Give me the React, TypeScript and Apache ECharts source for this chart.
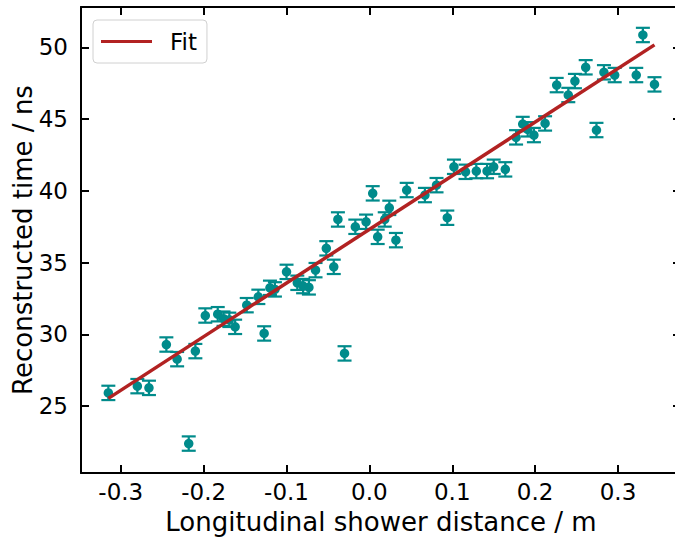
import React, { useEffect, useRef } from "react";
import * as echarts from "echarts";

const xVals = [
  -0.315, -0.28, -0.266, -0.245, -0.232, -0.218, -0.21, -0.198, -0.183, -0.176,
  -0.169, -0.162, -0.148, -0.134, -0.127, -0.12, -0.114, -0.1, -0.087, -0.08,
  -0.073, -0.065, -0.052, -0.043, -0.038, -0.03, -0.017, -0.004, 0.004, 0.01,
  0.0185, 0.024, 0.032, 0.045, 0.067, 0.081, 0.094, 0.102, 0.116, 0.129,
  0.142, 0.15, 0.164, 0.177, 0.185, 0.191, 0.1985, 0.212, 0.226, 0.24,
  0.248, 0.261, 0.274, 0.283, 0.296, 0.322, 0.33, 0.344,
];
const yVals = [
  25.93, 26.4, 26.28, 29.3, 28.28, 22.4, 28.84, 31.32, 31.41, 31.1,
  31.02, 30.53, 32.04, 32.62, 30.07, 33.25, 33.14, 34.36, 33.6, 33.37,
  33.28, 34.48, 36.0, 34.71, 38.01, 28.68, 37.5, 37.85, 39.83, 36.8,
  38.01, 38.82, 36.57, 40.06, 39.71, 40.4, 38.13, 41.68, 41.33, 41.38,
  41.38, 41.68, 41.5, 43.73, 44.66, 44.29, 43.89, 44.7, 47.37, 46.68,
  47.65, 48.61, 44.24, 48.26, 48.07, 48.07, 50.86, 47.42,
];
const yErr = [
  0.5, 0.5, 0.5, 0.5, 0.5, 0.5, 0.5, 0.5, 0.5, 0.5,
  0.5, 0.5, 0.5, 0.5, 0.5, 0.5, 0.5, 0.5, 0.5, 0.5,
  0.5, 0.5, 0.5, 0.5, 0.5, 0.5, 0.5, 0.5, 0.5, 0.5,
  0.5, 0.5, 0.5, 0.5, 0.5, 0.5, 0.5, 0.5, 0.5, 0.5,
  0.5, 0.5, 0.5, 0.5, 0.5, 0.5, 0.5, 0.5, 0.5, 0.5,
  0.5, 0.5, 0.5, 0.5, 0.5, 0.5, 0.5, 0.5,
];
const fitX = [-0.315, 0.344];
const fitY = [25.55, 50.17];
const xTicks = [-0.3, -0.2, -0.1, 0.0, 0.1, 0.2, 0.3];
const yTicks = [25, 30, 35, 40, 45, 50];

const TEAL = "#008B8B";
const RED = "#B22222";
const FONT = "DejaVu Sans";

export default function App() {
  const ref = useRef<HTMLDivElement>(null);
  useEffect(() => {
    if (!ref.current) return;
    const chart = echarts.init(ref.current, null, { renderer: "svg" });
    const pts = xVals.map((x, i) => [x, yVals[i], yErr[i]]);
    const tickStyle = { inside: true, length: 8, lineStyle: { color: "#000", width: 2 } };
    const lineStyle = { lineStyle: { color: "#000", width: 2 } };
    const xAxisBase = {
      type: "value",
      min: -0.348,
      max: 0.376,
      splitLine: { show: false },
      axisLine: { show: true, onZero: false, ...lineStyle },
    };
    const yAxisBase = {
      type: "value",
      min: 20.35,
      max: 52.81,
      splitLine: { show: false },
      axisLine: { show: true, onZero: false, ...lineStyle },
    };
    chart.setOption({
      animation: false,
      backgroundColor: "#fff",
      grid: {
        left: 81,
        right: -6,
        top: 7,
        bottom: 64,
        containLabel: false,
        outerBoundsMode: "none",
      },
      legend: {
        data: ["Fit"],
        left: 93,
        top: 20,
        icon: "rect",
        itemWidth: 51,
        itemHeight: 3,
        padding: [10, 10, 10, 8],
        borderColor: "#d0d0d0",
        borderWidth: 1,
        borderRadius: 4,
        backgroundColor: "rgba(255,255,255,0.8)",
        textStyle: {
          fontFamily: FONT,
          fontSize: 23,
          color: "#000",
          padding: [0, 0, 0, 13],
          lineHeight: 22,
        },
      },
      xAxis: [
        {
          ...xAxisBase,
          position: "bottom",
          axisTick: { ...tickStyle, customValues: xTicks },
          axisLabel: {
            customValues: xTicks,
            formatter: (v: number) => v.toFixed(1),
            fontFamily: FONT,
            fontSize: 23,
            lineHeight: 18,
            color: "#000",
            margin: 10,
          },
          name: "Longitudinal shower distance / m",
          nameLocation: "middle",
          nameGap: 38,
          nameMoveOverlap: false,
          nameTextStyle: { fontFamily: FONT, fontSize: 26, lineHeight: 22, color: "#000" },
        },
        {
          ...xAxisBase,
          position: "top",
          axisTick: { ...tickStyle, customValues: xTicks },
          axisLabel: { show: false },
        },
      ],
      yAxis: [
        {
          ...yAxisBase,
          position: "left",
          axisTick: { ...tickStyle, customValues: yTicks },
          axisLabel: {
            customValues: yTicks,
            fontFamily: FONT,
            fontSize: 23,
            color: "#000",
            margin: 13,
          },
          name: "Reconstructed time / ns",
          nameLocation: "middle",
          nameGap: 45,
          nameMoveOverlap: false,
          nameTextStyle: { fontFamily: FONT, fontSize: 26, color: "#000" },
        },
        {
          ...yAxisBase,
          position: "right",
          axisTick: { ...tickStyle, customValues: yTicks },
          axisLabel: { show: false },
        },
      ],
      series: [
        {
          type: "custom",
          name: "errors",
          xAxisIndex: 0,
          yAxisIndex: 0,
          data: pts,
          encode: { x: 0, y: 1 },
          z: 2,
          renderItem: (params: any, api: any) => {
            const x = api.value(0);
            const y = api.value(1);
            const e = api.value(2);
            const top = api.coord([x, y + e]);
            const bot = api.coord([x, y - e]);
            const hw = 7;
            const st = { stroke: TEAL, lineWidth: 2.2 };
            return {
              type: "group",
              children: [
                { type: "line", shape: { x1: top[0], y1: top[1], x2: bot[0], y2: bot[1] }, style: st },
                { type: "line", shape: { x1: top[0] - hw, y1: top[1], x2: top[0] + hw, y2: top[1] }, style: st },
                { type: "line", shape: { x1: bot[0] - hw, y1: bot[1], x2: bot[0] + hw, y2: bot[1] }, style: st },
              ],
            };
          },
        },
        {
          type: "scatter",
          name: "data",
          data: pts.map((p) => [p[0], p[1]]),
          symbol: "circle",
          symbolSize: 9.5,
          itemStyle: { color: TEAL, opacity: 1 },
          z: 3,
        },
        {
          type: "line",
          name: "Fit",
          data: fitX.map((x, i) => [x, fitY[i]]),
          symbol: "none",
          lineStyle: { color: RED, width: 3.5 },
          itemStyle: { color: RED },
          z: 4,
        },
      ],
    });
    return () => chart.dispose();
  }, []);
  return (
    <div
      ref={ref}
      style={{ position: "fixed", left: 0, top: 0, width: 675, height: 537, background: "#fff" }}
    />
  );
}
